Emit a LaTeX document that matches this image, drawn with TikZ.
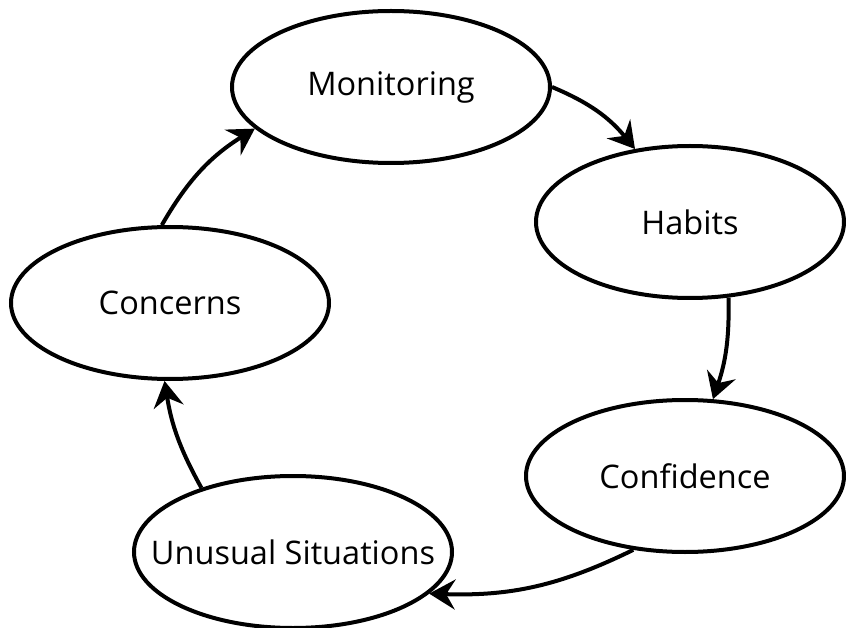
\documentclass[tikz,border=0pt]{standalone}
\usepackage{fontspec}
\setmainfont{Open Sans}
\usetikzlibrary{arrows.meta,shapes.geometric}
\tikzset{
    stage/.style={draw, ellipse, line width=4pt, inner sep=0pt,
        minimum width=318pt, minimum height=152pt,
        font=\fontsize{32.5}{38}\selectfont},
    flow/.style={line width=4pt,
        -{Stealth[length=26pt, width=30pt, inset=9pt]}},
}
\begin{document}
\begin{tikzpicture}[x=1pt, y=-1pt]
        \useasboundingbox (0,0) rectangle (846,628);
        % the five stages
        \node[stage] (mon) at (391,87) {Monitoring};
        \node[stage, minimum width=308pt] (hab) at (690,222) {Habits};
        \node[stage] (conf) at (685,476) {Confidence};
        \node[stage] (uns) at (293,552) {\makebox[0pt]{Unusual Situations}};
        \node[stage] (conc) at (170,303) {Concerns};
        % the cycle
        \draw[flow] (mon.0) to[bend left=14] (hab.127);
        \draw[flow] (hab.-63) to[bend left=10] (conf.70);
        \draw[flow] (conf.-125) to[bend left=14] (uns.-17);
        \draw[flow] (uns.145) to[bend left=10] (conc.-94);
        \draw[flow] (conc.96) to[bend left=14] (mon.197);
    \end{tikzpicture}
\end{document}
